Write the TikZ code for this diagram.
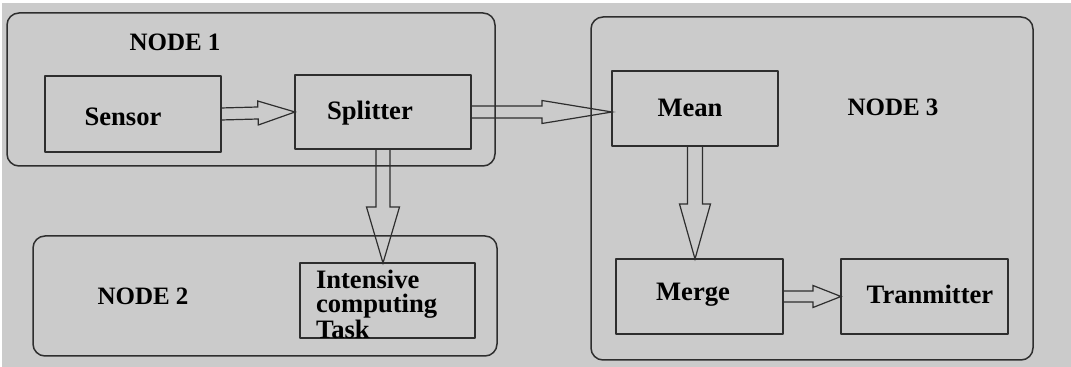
\documentclass[tikz,border=0pt]{standalone}
\usepackage{fontspec}
\setmainfont{Liberation Serif}
\usetikzlibrary{calc,positioning}
\definecolor{bggray}{HTML}{CBCBCB}
\definecolor{ink}{HTML}{2E2E2E}
\tikzset{
    every picture/.style={line join=round},
    nodegroup/.style={draw=ink,line width=0.75pt,rounded corners=6pt,
      inner sep=0pt,outer sep=0pt},
    procbox/.style={draw=ink,line width=0.75pt,inner sep=0pt,outer sep=0pt,
      align=center},
    grouptitle/.style={inner sep=0pt,outer sep=0pt},
    boxtext/.style={inner sep=0pt,outer sep=0pt,
      font=\bfseries\fontsize{13.3}{12}\selectfont},
    shaft/.store in=\shafthalf, shaft=3pt,
    headw/.store in=\headhalf, headw=6pt,
    headl/.store in=\headlen, headl=18pt,
    blockarrow/.style={draw=ink,line width=0.6pt,line join=miter,
      to path={($(\tikztostart)!\shafthalf!90:(\tikztotarget)$)
        -- ($($(\tikztotarget)!\headlen!(\tikztostart)$)!\shafthalf!90:(\tikztotarget)$)
        -- ($($(\tikztotarget)!\headlen!(\tikztostart)$)!\headhalf!90:(\tikztotarget)$)
        -- (\tikztotarget)
        -- ($($(\tikztotarget)!\headlen!(\tikztostart)$)!\headhalf!-90:(\tikztotarget)$)
        -- ($($(\tikztotarget)!\headlen!(\tikztostart)$)!\shafthalf!-90:(\tikztotarget)$)
        -- ($(\tikztostart)!\shafthalf!-90:(\tikztotarget)$)}}
}

\begin{document}
\begin{tikzpicture}[x=0.5pt,y=-0.5pt,font=\bfseries\fontsize{12.5}{12}\selectfont]
  \useasboundingbox (0,0) rectangle (1071,367);
  \fill[white] (0,0) rectangle (1071,367);
  \fill[bggray] (2,3) rectangle (1071,367);
  % node groups
  \node[nodegroup,minimum width=244pt,minimum height=76.5pt] (node1) at (251,89.5) {};
  \node[nodegroup,minimum width=232pt,minimum height=60pt] (node2) at (265,296) {};
  \node[nodegroup,minimum width=221pt,minimum height=171.5pt] (node3) at (812,188.5) {};
  \node[grouptitle] (title1) at (175,42) {NODE 1};
  \node[grouptitle] (title2) at (143,296) {NODE 2};
  \node[grouptitle] (title3) at (893,107) {NODE 3};
  % blocks (labels sit a little off centre)
  \node[procbox,minimum width=88pt,minimum height=38pt,
    label={[boxtext,xshift=-5pt,yshift=-1.5pt]center:Sensor}] (sensor) at (133,114) {};
  \node[procbox,minimum width=88pt,minimum height=37pt,
    label={[boxtext,xshift=-6.5pt,yshift=-0.5pt]center:Splitter}] (splitter) at (383,112) {};
  \node[procbox,minimum width=87.5pt,minimum height=37.5pt] (task) at (387.5,300.5) {};
  \node[boxtext,anchor=north west,align=left] (tasktext) at ([shift={(16,7)}]task.north west)
    {Intensive\\computing\\Task};
  \node[procbox,minimum width=83pt,minimum height=37.5pt,
    label={[boxtext,xshift=-2.5pt,yshift=0.5pt]center:Mean}] (mean) at (695,108.5) {};
  \node[procbox,minimum width=83.5pt,minimum height=37.5pt,
    label={[boxtext,xshift=-3.25pt,yshift=1pt]center:Merge}] (merge) at (699.5,296.5) {};
  \node[procbox,minimum width=83.5pt,minimum height=37.5pt,
    label={[boxtext,xshift=2.75pt,yshift=1pt]center:Tranmitter}] (tran) at (924.5,296.5) {};
  % data flow
  \draw[blockarrow,shaft=3pt,headw=6pt,headl=18.5pt] (sensor.east) to (splitter.west);
  \draw[blockarrow,shaft=3pt,headw=5.75pt,headl=35pt] (splitter.east) to (splitter.east -| mean.west);
  \draw[blockarrow,shaft=3.5pt,headw=8.25pt,headl=28pt] (splitter.south) to (splitter.south |- task.north);
  \draw[blockarrow,shaft=3.75pt,headw=7.75pt,headl=27.5pt] (mean.south) to (mean.south |- merge.north);
  \draw[blockarrow,shaft=2.75pt,headw=5.5pt,headl=14pt] (merge.east) to (tran.west);
\end{tikzpicture}
\end{document}
